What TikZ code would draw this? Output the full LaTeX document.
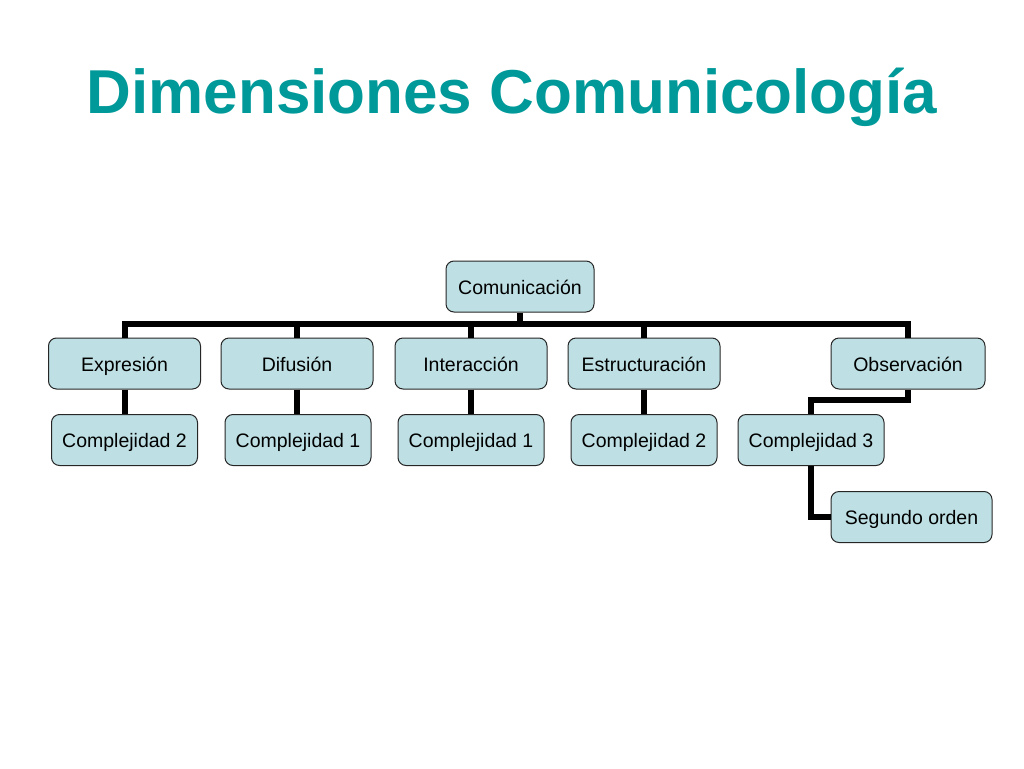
\documentclass[tikz,border=0pt]{standalone}
\usepackage{fontspec}
\setmainfont{Liberation Sans}
\usetikzlibrary{positioning}
\definecolor{boxfill}{RGB}{190,224,228}
\definecolor{titleteal}{RGB}{0,153,153}

\begin{document}
\begin{tikzpicture}[x=1pt,y=-1pt,
  dimbox/.style={rectangle, rounded corners=8pt, draw=black!85, line width=1pt, fill=boxfill,
    minimum height=51pt, inner sep=2pt, text height=17.5pt, text depth=2.5pt,
    font=\fontsize{19.5}{23}\selectfont},
  toprow/.style={dimbox, minimum width=152pt},
  lowrow/.style={dimbox, minimum width=146pt},
  conn/.style={line width=6pt, black}]
\useasboundingbox (0,0) rectangle (1024,768);

\node[text=titleteal, font=\fontsize{62}{70}\bfseries\selectfont](title) at (512,97) {Dimensiones Comunicología};

\node[dimbox, minimum width=148pt](com) at (520,286.5) {Comunicación};

\node[toprow](expr) at (124.5,363.5) {Expresión};
\node[toprow](difu) at (297,363.5) {Difusión};
\node[toprow](inter) at (471,363.5) {Interacción};
\node[toprow](estr) at (644,363.5) {Estructuración};
\node[toprow, minimum width=154pt](obs) at (908,363.5) {Observación};

\node[lowrow](cexpr) at (124.5,440) {Complejidad 2};
\node[lowrow](cdifu) at (298,440) {Complejidad 1};
\node[lowrow](cinter) at (471,440) {Complejidad 1};
\node[lowrow](cestr) at (644,440) {Complejidad 2};
\node[lowrow](cobs) at (811,440) {Complejidad 3};

\node[dimbox, minimum width=161pt](seg) at (911.5,517) {Segundo orden};

\coordinate (bar) at (520,324);
\draw[conn] (com.south) -- (com.south |- bar) -| (expr.north);
\draw[conn] (com.south |- bar) -| (difu.north);
\draw[conn] (com.south |- bar) -| (inter.north);
\draw[conn] (com.south |- bar) -| (estr.north);
\draw[conn] (com.south |- bar) -| (obs.north);

\draw[conn] (expr) -- (cexpr);
\draw[conn] (difu.south) -- (difu.south |- cdifu.north);
\draw[conn] (inter) -- (cinter);
\draw[conn] (estr) -- (cestr);
\draw[conn] (obs.south) -- ++(0,10) -| (cobs.north);
\draw[conn] (cobs.south) |- (seg.west);
\end{tikzpicture}
\end{document}
